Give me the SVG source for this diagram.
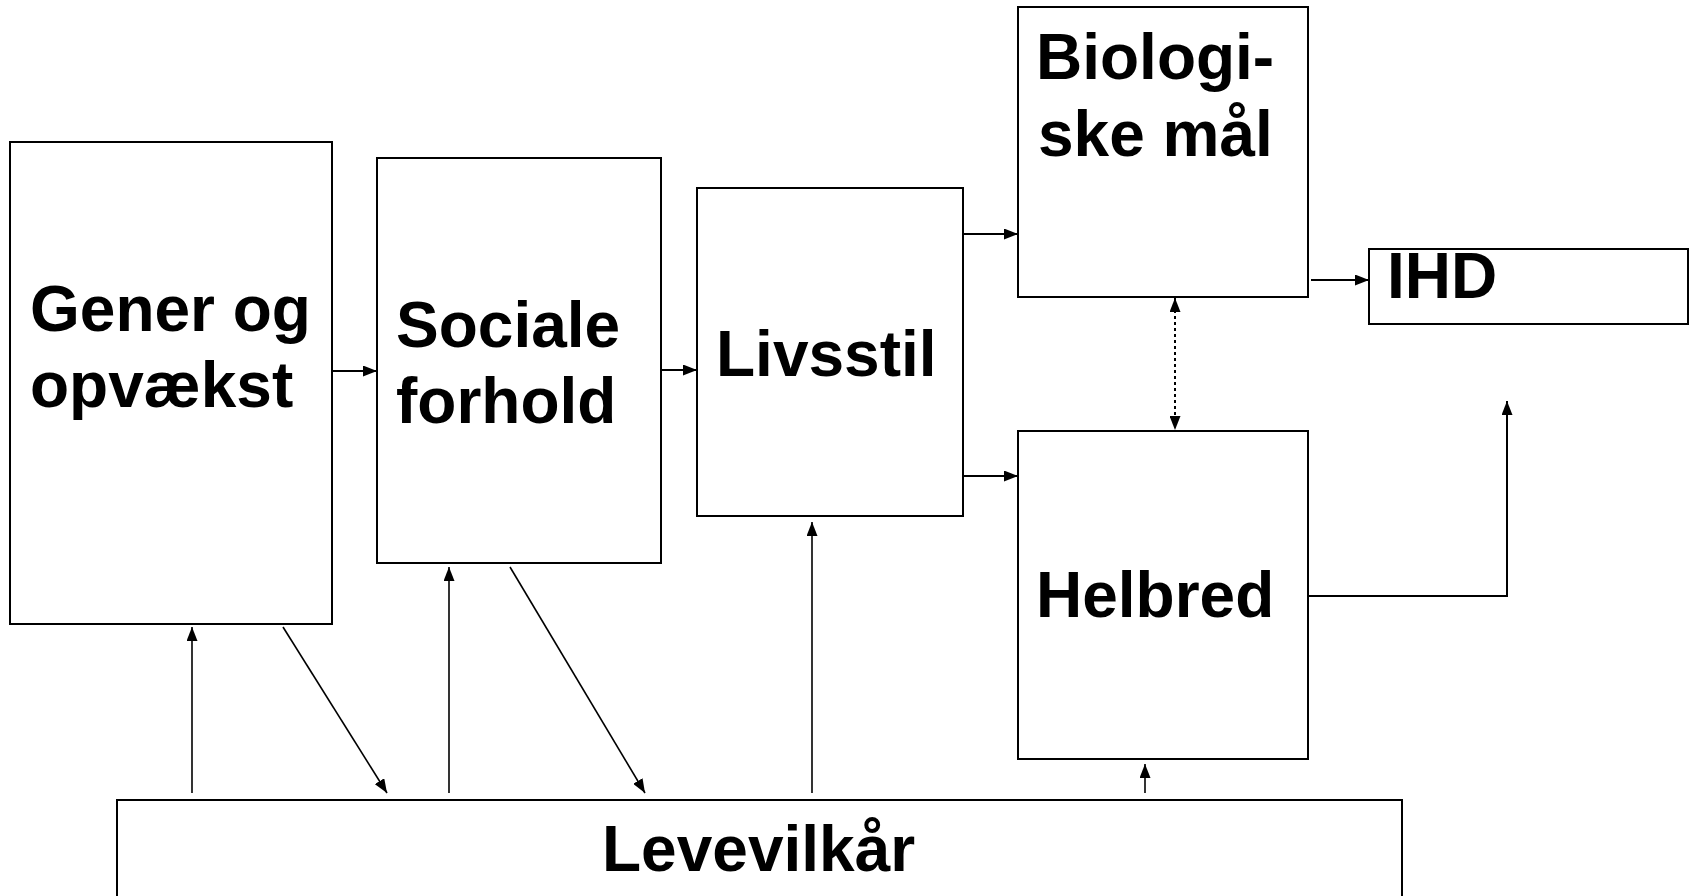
<svg xmlns="http://www.w3.org/2000/svg" width="1690" height="896" viewBox="0 0 1690 896">
<defs>
<marker id="ah" markerUnits="userSpaceOnUse" markerWidth="15" markerHeight="11" refX="14" refY="5.5" orient="auto">
<path d="M0,0 L14,5.5 L0,11 z" fill="#000"/>
</marker>
<marker id="ahs" markerUnits="userSpaceOnUse" markerWidth="15" markerHeight="11" refX="0" refY="5.5" orient="auto">
<path d="M14,0 L0,5.5 L14,11 z" fill="#000"/>
</marker>
<style>
.box{fill:#fff;stroke:#000;stroke-width:2}
.t{font-family:"Liberation Sans",Arial,sans-serif;font-weight:bold;font-size:64px;fill:#000}
.c{fill:none;stroke:#000;stroke-width:2;marker-end:url(#ah)}
.c2{fill:none;stroke:#000;stroke-width:1.6;marker-end:url(#ah)}
</style>
</defs>
<rect width="1690" height="896" fill="#fff"/>
<g id="gener"><rect class="box" x="10" y="142" width="322" height="482"/><text class="t" x="30" y="331">Gener og</text><text class="t" x="30" y="407">opvækst</text></g>
<g id="sociale"><rect class="box" x="377" y="158" width="284" height="405"/><text class="t" x="396" y="347">Sociale</text><text class="t" x="396" y="423">forhold</text></g>
<g id="livsstil"><rect class="box" x="697" y="188" width="266" height="328"/><text class="t" x="716" y="376">Livsstil</text></g>
<g id="biologiske"><rect class="box" x="1018" y="7" width="290" height="290"/><text class="t" x="1036" y="79">Biologi-</text><text class="t" x="1038" y="156">ske mål</text></g>
<g id="ihd"><rect class="box" x="1369" y="249" width="319" height="75"/><text class="t" x="1387" y="298">IHD</text></g>
<g id="helbred"><rect class="box" x="1018" y="431" width="290" height="328"/><text class="t" x="1036" y="617">Helbred</text></g>
<g id="levevilkar"><rect class="box" x="117" y="800" width="1285" height="120"/><text class="t" x="602" y="871">Levevilkår</text></g>
<g id="connectors">
<line class="c" x1="333" y1="371" x2="377" y2="371"/>
<line class="c" x1="662" y1="370" x2="697" y2="370"/>
<line class="c" x1="964" y1="234" x2="1018" y2="234"/>
<line class="c" x1="964" y1="476" x2="1018" y2="476"/>
<line class="c" x1="1311" y1="280" x2="1369" y2="280"/>
<line x1="1175" y1="298" x2="1175" y2="430" stroke="#000" stroke-width="2" stroke-dasharray="3,3" marker-start="url(#ahs)" marker-end="url(#ah)"/>
<polyline class="c" points="1309,596 1507,596 1507,401"/>
<line class="c2" x1="192" y1="793" x2="192" y2="627"/>
<line class="c2" x1="283" y1="627" x2="387" y2="793"/>
<line class="c2" x1="449" y1="793" x2="449" y2="567"/>
<line class="c2" x1="510" y1="567" x2="645" y2="793"/>
<line class="c2" x1="812" y1="793" x2="812" y2="522"/>
<line class="c2" x1="1145" y1="793" x2="1145" y2="764"/>
</g>
</svg>
